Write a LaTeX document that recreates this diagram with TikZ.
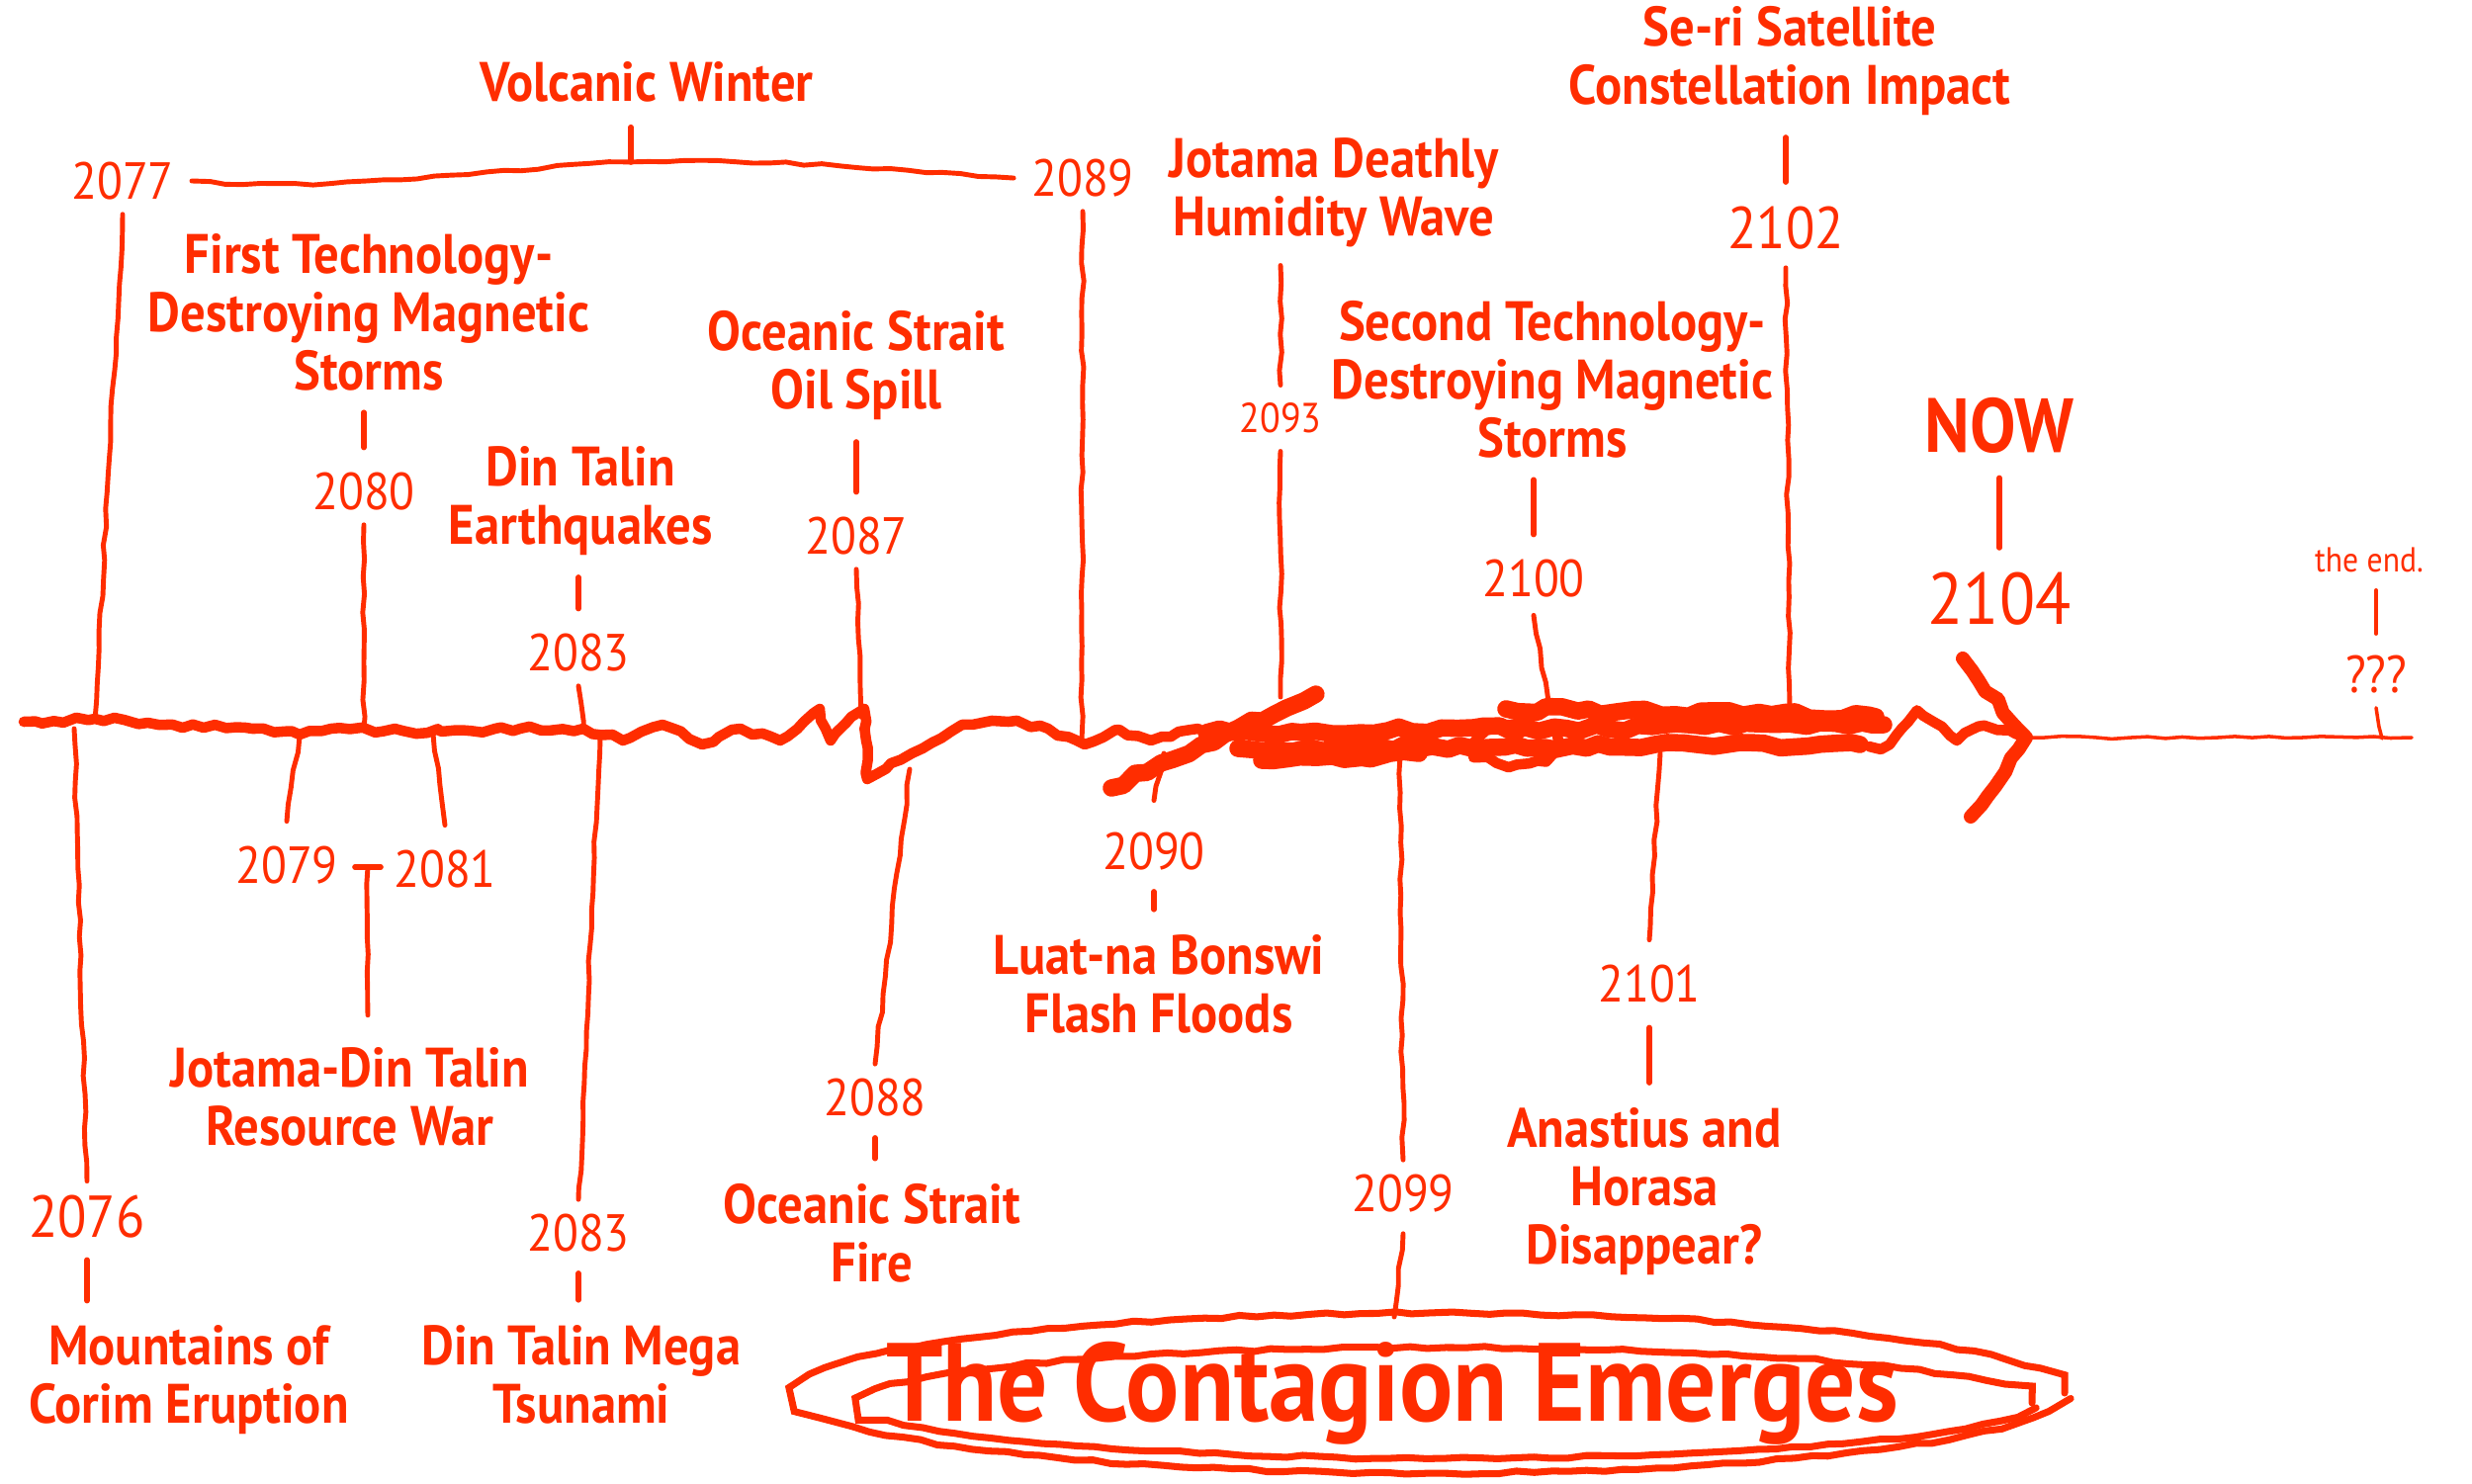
\documentclass[tikz,border=0pt]{standalone}
\usepackage{fontspec}
\setmainfont[FakeStretch=0.9]{PT Sans}
\usepackage{tikz}
\usetikzlibrary{decorations.pathmorphing}
\definecolor{ink}{RGB}{255,45,0}
\tikzstyle{event} = [text=ink, font=\bfseries\fontsize{16}{16.8}\selectfont, align=center, inner sep=1pt]
\tikzstyle{year} = [text=ink, font=\fontsize{15}{17}\selectfont, inner sep=1pt]
\tikzstyle{line} = [draw=ink, line width=1.4pt, line cap=round, decorate, decoration={random steps, segment length=5pt, amplitude=0.4pt}]
\tikzstyle{tick} = [draw=ink, line width=1.6pt, line cap=round]
\tikzstyle{axis} = [draw=ink, line width=3pt, line cap=round, line join=round, decorate, decoration={random steps, segment length=3pt, amplitude=0.8pt}]
\tikzstyle{scribble} = [draw=ink, line width=5pt, line cap=round, line join=round, decorate, decoration={random steps, segment length=4pt, amplitude=1pt}]

\begin{document}
\begin{tikzpicture}
    \useasboundingbox (0,0) rectangle (25,15);
    \pgfmathsetseed{5}
    % Places on the time line
    \coordinate (a2076) at (0.75,7.63);
    \coordinate (a2077) at (0.96,7.72);
    \coordinate (a2079) at (3.03,7.56);
    \coordinate (a2080) at (3.68,7.63);
    \coordinate (a2081) at (4.38,7.58);
    \coordinate (a2083a) at (5.90,7.60);
    \coordinate (a2083b) at (6.07,7.55);
    \coordinate (a2087) at (8.71,7.75);
    \coordinate (a2088) at (9.20,7.22);
    \coordinate (a2089) at (10.94,7.52);
    \coordinate (a2090) at (11.77,7.38);
    \coordinate (a2093) at (12.95,7.95);
    \coordinate (a2099) at (14.16,7.35);
    \coordinate (a2100) at (15.66,7.90);
    \coordinate (a2101) at (16.79,7.38);
    \coordinate (a2102) at (18.10,7.83);
    \coordinate (nowtip) at (20.49,7.54);
    \coordinate (aend) at (24.09,7.53);
    \coordinate (far) at (24.39,7.54);
    % Place nodes above the line
    \node [event] (winter) at (6.54,14.17) {Volcanic Winter};
    \node [year] (y2077) at (1.24,13.17) {2077};
    \node [year] (y2089) at (10.95,13.20) {2089};
    \coordinate (wmid) at (6.38,13.36);
    \node [event] (storms1) at (3.73,11.84) {First Technology-\\Destroying Magnetic\\Storms};
    \node [year] (y2080) at (3.68,10.03) {2080};
    \node [event] (quakes) at (5.87,9.93) {Din Talin\\Earthquakes};
    \node [year] (y2083a) at (5.85,8.40) {2083};
    \node [event] (oil) at (8.66,11.30) {Oceanic Strait\\Oil Spill};
    \node [year] (y2087) at (8.66,9.58) {2087};
    \node [event] (humid) at (13.49,13.05) {Jotama Deathly\\Humidity Wave};
    \node [year, font=\fontsize{12}{14}\selectfont] (y2093) at (12.95,10.77) {2093};
    \node [event] (storms2) at (15.70,11.16) {Second Technology-\\Destroying Magnetic\\Storms};
    \node [year] (y2100) at (15.51,9.15) {2100};
    \node [event] (satellite) at (18.10,14.38) {Se-ri Satellite\\Constellation Impact};
    \node [year, font=\fontsize{17}{20}\selectfont] (y2102) at (18.06,12.69) {2102};
    \node [event, font=\bfseries\fontsize{22}{24}\selectfont] (now) at (20.22,10.70) {NOW};
    \node [year, font=\fontsize{21}{25}\selectfont] (y2104) at (20.22,8.94) {2104};
    \node [year, font=\fontsize{10}{12}\selectfont] (theend) at (23.96,9.34) {the end.};
    \node [year] (unknown) at (24.03,8.18) {???};
    % Place nodes below the line
    \node [year, font=\fontsize{17}{20}\selectfont] (y2076) at (0.88,2.69) {2076};
    \node [event] (corim) at (1.91,1.04) {Mountains of\\Corim Eruption};
    \node [year] (y2079) at (2.90,6.25) {2079};
    \node [year] (y2081) at (4.50,6.21) {2081};
    \coordinate (dash) at (3.72,6.23);
    \node [event] (war) at (3.54,3.91) {Jotama-Din Talin\\Resource War};
    \node [year] (y2083b) at (5.85,2.53) {2083};
    \node [event] (tsunami) at (5.88,1.10) {Din Talin Mega\\Tsunami};
    \node [year] (y2088) at (8.85,3.90) {2088};
    \node [event] (fire) at (8.82,2.53) {Oceanic Strait\\Fire};
    \node [year] (y2090) at (11.67,6.39) {2090};
    \node [event] (floods) at (11.72,5.05) {Luat-na Bonswi\\Flash Floods};
    \node [year] (y2099) at (14.19,2.93) {2099};
    \node [year] (y2101) at (16.68,5.05) {2101};
    \node [event] (vanish) at (16.63,2.95) {Anastius and\\Horasa\\Disappear?};
    \node [text=ink, font=\bfseries\fontsize{32}{36}\selectfont] (contagion) at (14.08,0.91) {The Contagion Emerges};
    \coordinate (ctop) at (14.10,1.68);
    % The time line
    \path [axis] (0.24,7.70) -- (0.96,7.73) -- (1.75,7.67) -- (2.55,7.63) -- (3.03,7.57) -- (3.35,7.63)
        -- (4.46,7.60) -- (5.26,7.63) -- (5.90,7.63) -- (6.30,7.51) -- (6.70,7.67) -- (7.10,7.47)
        -- (7.49,7.63) -- (7.89,7.51) -- (8.13,7.70) -- (8.29,7.83) -- (8.40,7.51) -- (8.61,7.75)
        -- (8.74,7.83) -- (8.77,7.12) -- (9.01,7.28) -- (9.33,7.43) -- (9.73,7.67) -- (10.20,7.70)
        -- (10.60,7.63) -- (10.97,7.47) -- (11.32,7.62) -- (11.64,7.51) -- (12.12,7.63);
    \path [scribble] (11.24,7.03) -- (13.31,7.98);
    \path [scribble] (12.20,7.59) -- (19.05,7.67);
    \path [scribble] (12.52,7.43) -- (18.81,7.47);
    \path [scribble] (12.76,7.31) -- (14.35,7.38);
    \path [scribble] (15.23,7.83) -- (18.97,7.75);
    \path [axis] (15.34,7.47) ellipse [x radius=0.42, y radius=0.2];
    \path [axis] (18.90,7.45) .. controls (19.2,7.35) and (19.2,7.85) .. (19.45,7.75)
        .. controls (19.6,7.7) and (19.7,7.5) .. (19.8,7.55) .. controls (19.95,7.65) and (20.1,7.7) .. (nowtip);
    \path [scribble, line width=4pt] (19.85,8.34) -- (nowtip) -- (19.93,6.74);
    \path [line, line width=1pt] (nowtip) -- (far);
    % Draw edges above
    \path [line] ([xshift=4pt]y2077.east) .. controls (3.5,13.05) and (5,13.3) .. (wmid)
        .. controls (8,13.4) and (9.5,13.25) .. ([xshift=-4pt]y2089.west);
    \path [tick] ([yshift=-6pt]winter.south -| wmid) -- (wmid);
    \path [line] ([yshift=-3pt]y2077.south) -- (a2077);
    \path [line] ([yshift=-3pt]y2089.south) -- (a2089);
    \path [tick] ([yshift=-5pt]storms1.south -| y2080) -- ([yshift=6pt]y2080.north);
    \path [line] ([yshift=-3pt]y2080.south) -- (a2080);
    \path [tick] ([yshift=-5pt]quakes.south -| y2083a) -- ([yshift=6pt]y2083a.north);
    \path [line] ([yshift=-3pt]y2083a.south) -- (a2083a);
    \path [tick] ([yshift=-5pt]oil.south -| y2087) -- ([yshift=6pt]y2087.north);
    \path [line] ([yshift=-3pt]y2087.south) -- (a2087);
    \path [line] ([yshift=-4pt]humid.south -| y2093) -- ([yshift=4pt]y2093.north);
    \path [line] ([yshift=-4pt]y2093.south) -- (a2093);
    \path [tick] ([yshift=-5pt]storms2.south -| y2100) -- ([yshift=6pt]y2100.north);
    \path [line] ([yshift=-4pt]y2100.south) -- (a2100);
    \path [tick] ([yshift=-5pt]satellite.south -| y2102) -- ([yshift=6pt]y2102.north);
    \path [line] ([yshift=-4pt]y2102.south) -- (a2102);
    \path [tick] ([yshift=-6pt]now.south) -- ([yshift=6pt]y2104.north);
    \path [tick, line width=1pt] ([yshift=-4pt]theend.south -| unknown) -- ([yshift=5pt]unknown.north);
    \path [line, line width=1pt] ([yshift=-3pt]unknown.south) -- (aend);
    % Draw edges below
    \path [line] (a2076) -- ([yshift=3pt]y2076.north);
    \path [tick] ([yshift=-5pt]y2076.south) -- ([yshift=6pt]corim.north -| y2076);
    \path [line] (a2079) -- ([yshift=6pt]y2079.north);
    \path [line] (a2081) -- ([yshift=6pt]y2081.north);
    \path [tick] ([xshift=-0.13cm]dash) -- ([xshift=0.13cm]dash);
    \path [line] (dash) -- ([yshift=8pt]war.north -| dash);
    \path [line] (a2083b) -- ([yshift=3pt]y2083b.north);
    \path [tick] ([yshift=-5pt]y2083b.south) -- ([yshift=6pt]tsunami.north -| y2083b);
    \path [line] (a2088) -- ([yshift=3pt]y2088.north);
    \path [tick] ([yshift=-5pt]y2088.south) -- ([yshift=6pt]fire.north -| y2088);
    \path [line] (a2090) -- ([yshift=8pt]y2090.north);
    \path [tick] ([yshift=-5pt]y2090.south) -- ([yshift=6pt]floods.north -| y2090);
    \path [line] (a2099) -- ([yshift=3pt]y2099.north);
    \path [line] ([yshift=-5pt]y2099.south) -- (ctop);
    \path [line] (a2101) -- ([yshift=6pt]y2101.north);
    \path [tick] ([yshift=-6pt]y2101.south) -- ([yshift=6pt]vanish.north -| y2101);
    % Rings round the contagion
    \path [line, line width=2pt] ([xshift=0.38cm]contagion.center) ellipse [x radius=6.42, y radius=0.81];
    \path [line, line width=2pt] ([xshift=0.54cm,yshift=-0.1cm]contagion.center) ellipse [x radius=5.93, y radius=0.56];
\end{tikzpicture}
\end{document}
